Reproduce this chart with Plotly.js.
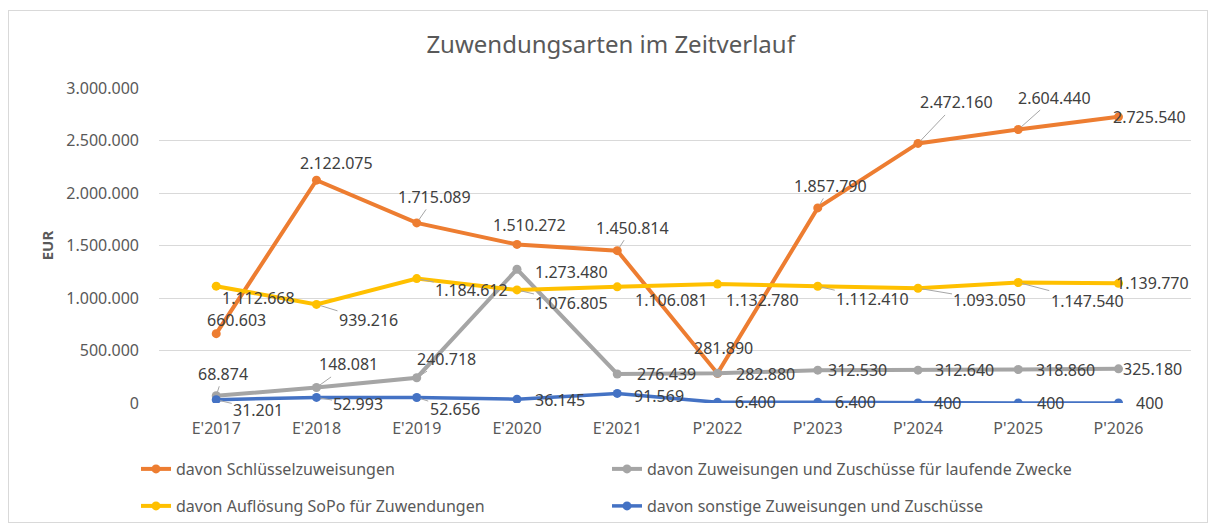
<!DOCTYPE html>
<html>
<head>
<meta charset="utf-8">
<script src="https://cdn.plot.ly/plotly-3.0.1.min.js"></script>
<style>
  html, body { margin: 0; padding: 0; background: #fff; }
  #wrap { position: relative; width: 1214px; height: 526px; }
  #chart { width: 1214px; height: 526px; }
  #frame { position: absolute; left: 8px; top: 10px; width: 1198px; height: 511px;
           border: 1px solid #d9d9d9; pointer-events: none; }
</style>
</head>
<body>
<div id="wrap">
  <div id="chart"></div>
  <div id="frame"></div>
</div>
<script>
// ---- data ----
const categories = ["E'2017", "E'2018", "E'2019", "E'2020", "E'2021", "P'2022", "P'2023", "P'2024", "P'2025", "P'2026"];
const seriesNames = [
  "davon Schlüsselzuweisungen",
  "davon Zuweisungen und Zuschüsse für laufende Zwecke",
  "davon Auflösung SoPo für Zuwendungen",
  "davon sonstige Zuweisungen und Zuschüsse"
];
const schluesselzuweisungen = [660603, 2122075, 1715089, 1510272, 1450814, 281890, 1857790, 2472160, 2604440, 2725540];
const laufendeZwecke       = [68874, 148081, 240718, 1273480, 276439, 282880, 312530, 312640, 318860, 325180];
const aufloesungSoPo       = [1112668, 939216, 1184612, 1076805, 1106081, 1132780, 1112410, 1093050, 1147540, 1139770];
const sonstige             = [31201, 52993, 52656, 36145, 91569, 6400, 6400, 400, 400, 400];
const yTickValues = [0, 500000, 1000000, 1500000, 2000000, 2500000, 3000000];

// ---- styling (label placement offsets in px: [dx, dy, leaderLine]) ----
const colors = ["#ED7D31", "#A5A5A5", "#FFC000", "#4472C4"];
const labelOffsets = [
  [[20,-14,0],[20,-17,0],[18,-26,1],[13,-19,0],[15,-23,1],[6,-25,0],[13,-22,1],[39,-41,1],[36,-32,1],[31,0,0]],
  [[7,-22,1],[32,-23,1],[30,-19,1],[55,3,0],[49,0,0],[48,1,0],[40,0,0],[47,0,0],[47,0,0],[34,0,0]],
  [[42,12,0],[52,16,1],[55,11,1],[55,13,1],[54,13,0],[45,16,0],[55,13,1],[72,12,1],[69,18,1],[34,0,0]],
  [[42,10,1],[42,7,1],[38,12,1],[43,1,0],[42,3,0],[38,0,0],[38,0,0],[30,0,0],[32,0,0],[31,0,0]]
];
const FONT = "Noto Sans, Open Sans, sans-serif";

function fmt(v) { return String(Math.round(v)).replace(/\B(?=(\d{3})+(?!\d))/g, "."); }

const allSeries = [schluesselzuweisungen, laufendeZwecke, aufloesungSoPo, sonstige];
const legendFor = ["legend", "legend", "legend2", "legend2"];
const widths = [4, 4, 4, 3.5];

const traces = allSeries.map((vals, i) => ({
  type: "scatter",
  mode: "lines+markers",
  name: seriesNames[i],
  x: categories,
  y: vals,
  line: { color: colors[i], width: widths[i] },
  marker: { color: colors[i], size: 9 },
  legend: legendFor[i],
  hoverinfo: "x+y"
}));

const annotations = [];
allSeries.forEach((vals, i) => {
  vals.forEach((v, j) => {
    const o = labelOffsets[i][j];
    annotations.push({
      x: categories[j], y: v, xref: "x", yref: "y",
      text: fmt(v),
      showarrow: true,
      ax: o[0], ay: o[1],
      arrowhead: 0, arrowwidth: 1,
      arrowcolor: o[2] ? "#A6A6A6" : "rgba(0,0,0,0)",
      standoff: 4,
      font: { family: FONT, size: 16, color: "#404040" }
    });
  });
});

const layout = {
  width: 1214, height: 526,
  paper_bgcolor: "#ffffff", plot_bgcolor: "#ffffff",
  separators: ",.",
  margin: { l: 159, r: 23, t: 88, b: 123 },
  title: {
    text: "Zuwendungsarten im Zeitverlauf",
    x: 0.503, xref: "container", xanchor: "center",
    y: 1 - 45/526, yref: "container", yanchor: "middle",
    font: { family: FONT, size: 24, color: "#595959" }
  },
  xaxis: {
    type: "category",
    showgrid: false, zeroline: false, showline: false,
    ticks: "", ticklabelstandoff: 14,
    tickfont: { family: FONT, size: 16, color: "#595959" },
    fixedrange: true
  },
  yaxis: {
    range: [0, 3000000],
    tickvals: yTickValues,
    tickformat: ",d",
    showgrid: true, gridcolor: "#D9D9D9", gridwidth: 1,
    zeroline: false, showline: false, ticks: "",
    ticklabelstandoff: 19,
    tickfont: { family: FONT, size: 16, color: "#595959" },
    title: { text: "EUR", standoff: 9, font: { family: FONT, size: 15, color: "#595959", weight: "bold" } },
    fixedrange: true
  },
  showlegend: true,
  legend: {
    orientation: "h", xref: "container", yref: "container",
    x: 136/1214, xanchor: "left", y: 1 - 452/526, yanchor: "top",
    entrywidth: 426, entrywidthmode: "pixels",
    font: { family: FONT, size: 16, color: "#595959" },
    bgcolor: "rgba(0,0,0,0)"
  },
  legend2: {
    orientation: "h", xref: "container", yref: "container",
    x: 136/1214, xanchor: "left", y: 1 - 489/526, yanchor: "top",
    entrywidth: 426, entrywidthmode: "pixels",
    font: { family: FONT, size: 16, color: "#595959" },
    bgcolor: "rgba(0,0,0,0)"
  },
  annotations: annotations
};

Plotly.newPlot("chart", traces, layout, { displayModeBar: false, staticPlot: true });
</script>
</body>
</html>
